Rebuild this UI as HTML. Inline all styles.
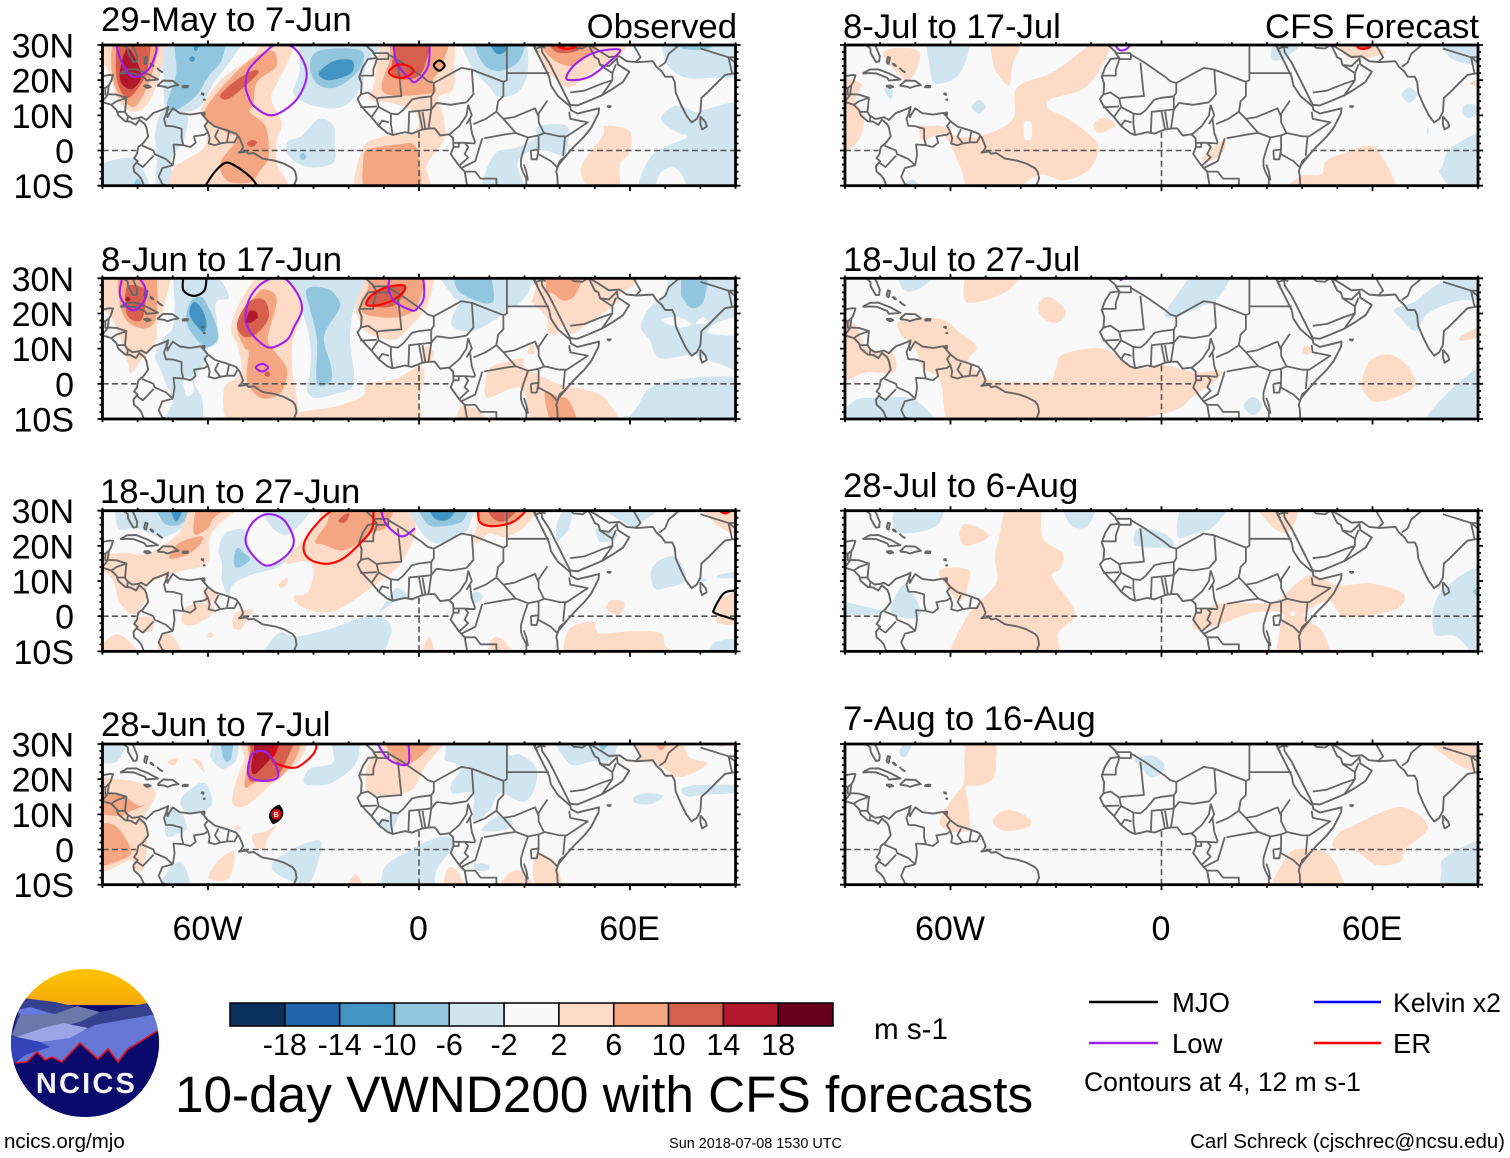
<!DOCTYPE html>
<html lang="en">
<head>
<meta charset="utf-8">
<title>10-day VWND200 with CFS forecasts</title>
<style>
html,body{margin:0;padding:0;background:#fefefe}
svg{display:block}
text{font-family:"Liberation Sans",Arial,sans-serif;fill:#000}
</style>
</head>
<body>
<svg id="figure" xmlns="http://www.w3.org/2000/svg" width="1510" height="1158" viewBox="0 0 1510 1158">
<rect x="0" y="0" width="1510" height="1158" fill="#fefefe"/>
<g id="panels"></g>

<g font-size="34.7">
<text x="101" y="31">29-May to 7-Jun</text>
<text x="101" y="271">8-Jun to 17-Jun</text>
<text x="100" y="503">18-Jun to 27-Jun</text>
<text x="101" y="736">28-Jun to 7-Jul</text>
<text x="843" y="38">8-Jul to 17-Jul</text>
<text x="843" y="271">18-Jul to 27-Jul</text>
<text x="843" y="497">28-Jul to 6-Aug</text>
<text x="843" y="730">7-Aug to 16-Aug</text>
<text x="737" y="38" text-anchor="end">Observed</text>
<text x="1479" y="38" text-anchor="end">CFS Forecast</text>
</g>

<g id="colorbar"></g>
<text x="874" y="1039" font-size="29.6">m s-1</text>

<g font-size="27.5">
<line x1="1089" y1="1002" x2="1158" y2="1002" stroke="#000" stroke-width="2.4"/>
<text x="1172" y="1012">MJO</text>
<line x1="1314" y1="1002" x2="1381" y2="1002" stroke="#0000ff" stroke-width="2.4"/>
<text x="1393" y="1012" font-size="26.6">Kelvin x2</text>
<line x1="1089" y1="1043" x2="1158" y2="1043" stroke="#a020f0" stroke-width="2.4"/>
<text x="1172" y="1053">Low</text>
<line x1="1314" y1="1043" x2="1381" y2="1043" stroke="#ff0000" stroke-width="2.4"/>
<text x="1393" y="1053">ER</text>
<text x="1084" y="1091" font-size="26.5">Contours at 4, 12 m s-1</text>
</g>

<text x="175" y="1112" font-size="51.3">10-day VWND200 with CFS forecasts</text>
<text x="4" y="1148" font-size="20.5">ncics.org/mjo</text>
<text x="755.5" y="1148" font-size="14.4" text-anchor="middle">Sun 2018-07-08 1530 UTC</text>
<text x="1505" y="1148" font-size="20.45" text-anchor="end">Carl Schreck (cjschrec@ncsu.edu)</text>

<g>
<defs>
<clipPath id="logoClip"><circle cx="85" cy="1043" r="74"/></clipPath>
<linearGradient id="sky" x1="0" y1="0" x2="0" y2="1"><stop offset="0" stop-color="#ffc400"/><stop offset="1" stop-color="#f0a010"/></linearGradient>
</defs>
<g clip-path="url(#logoClip)">
<rect x="11" y="969" width="148" height="50" fill="url(#sky)"/>
<rect x="11" y="1005" width="148" height="112" fill="#0a0a6c"/>
<polygon points="10,1040 23,998 55,1002 77,1007 100,1012 148,1003 160,1030 100,1045" fill="#35408f"/>
<polygon points="157,1014 160,1030 128,1048 118,1062 108,1049 98,1059 80,1043 62,1062 15,1063 40,1042 85,1030 95,1025" fill="#6777d6"/>
<polygon points="12,1035 20,1015 40,1013 55,1014 77,1006 100,1012 80,1022 43,1030 17,1037" fill="#6b78aa"/>
<polygon points="17,1010 30,1007 50,1013 55,1014 20,1015" fill="#6677dd"/>
<polygon points="17,1037 43,1028 63,1023 88,1028 70,1038 40,1042" fill="#9aa6e6"/>
<polygon points="10,1036 40,1042 50,1047 25,1055 14,1063 10,1063" fill="#3344bb"/>
<polygon points="5,1063 27,1062 37,1052 45,1060 52,1057 62,1062 80,1043 98,1059 108,1049 118,1062 127,1050 165,1027 165,1120 5,1120" fill="#0a0a6c"/>
<polyline points="15,1063 27,1062 37,1052 45,1060 52,1057 62,1062 80,1043 98,1059 108,1049 118,1062 127,1050 157,1031" fill="none" stroke="#e01020" stroke-width="1.6"/>
</g>
<text x="86.5" y="1093" text-anchor="middle" font-size="29" font-weight="bold" letter-spacing="2.2" style="fill:#f4f4f4">NCICS</text>
</g>
</svg>

<script>
/* ---------- axis tick data ---------- */
const latTickValues = [30, 20, 10, 0, -10];
const latTickLabels = ['30N', '20N', '10N', '0', '10S'];
const lonTickValues = [-60, 0, 60];
const lonTickLabels = ['60W', '0', '60E'];

/* ---------- colour scale ---------- */
const colorLevels = [-18, -14, -10, -6, -2, 2, 6, 10, 14, 18];
const colorFills = ['#0a3060', '#2166ac', '#4393c3', '#92c5de', '#d1e5f0', '#f9f9f9', '#fddbc7', '#f4a582', '#d6604d', '#b2182b', '#67001f'];

/* ---------- wind anomaly regions: [m/s, lon, lat, lon, lat, ...] ---------- */
const obs1Shades = [
[-4,-90,-5.3,-81,-2.5,-77.2,-10,-90,-10],
[-8,-82,-10,-80,-8,-78,-10],
[-4,-72,30,-72.5,20,-72.5,14.5,-71.5,11,-67,10.8,-62,12.7,-58.3,19.3,-52.6,27,-50.7,30],
[-4,-75,5,-74.5,-1.5,-74.5,-10,-67.8,-10,-70.6,-3.4,-67,3,-66,10.3,-72.5,11.7],
[-8,-68.5,30,-69,22,-71.5,14,-71,11.5,-68,12,-63,16,-60,21,-56,26,-56,30],
[-12,-65.3,26,-64.5,26.8,-63.7,26,-64.5,25.2],
[-12,-64,29,-63,30,-62,29.6,-63,28.6],
[4,-90,30,-88,22,-85.7,14.5,-81.5,11,-77,13.5,-73.5,22,-72.5,29,-72.5,30],
[8,-86,30,-87,20,-82,12.5,-78.5,15.5,-75,25,-74.5,30],
[12,-85,30,-86,21,-83,15,-79,19,-77,24,-77,30],
[16,-83,29,-85,23,-84.5,19,-81.5,17.5,-79,21,-80.5,26],
[4,-62,11.7,-60.5,7.6,-61,1,-67,-3,-70,-5.5,-68,-10,-38.5,-10,-40.4,-3.5,-40.4,3,-39,8,-42,14.5,-40.4,19,-36.5,27,-35.6,30,-43,30,-47,27,-56.4,20],
[8,-60,13,-56,18,-49,25,-42,28.5,-40.5,24,-46,19.5,-47,13.5,-48,10.8,-43.7,7,-42.7,-1.5,-45.5,-6.2,-48,-9,-54.5,-8.6,-56.4,-3.4,-51.7,3.2,-54.5,5,-59,7.5,-61,10],
[12,-56,16.4,-56.4,15,-53.6,15,-46,21.6,-47,22.8,-51.7,20.2],
[12,-49,2,-47.5,3,-46,2.3,-47.5,1],
[-4,-31.5,30,-34,22,-35.6,16,-29,12.5,-21.5,12.5,-16.6,18,-14.6,25.5,-9,30],
[-8,-31,24.5,-29,19,-23.5,18,-17,23,-16.6,28.5,-28,28.5],
[-12,-28.5,22,-24,25.5,-19,25.5,-19.3,22,-25.5,20],
[-4,-37.5,2.3,-33.3,4.2,-28.5,9,-24.3,7,-24,2.3,-24.3,-3.4,-31,-4.8,-36.6,-2],
[-8,-34,-1.7,-33,-0.7,-32,-1.7,-33,-2.7],
[4,-8.7,30,-13,18,-14,14.5,-8,13.5,-3,12,0,9,-2,5,-10,4,-16,0.5,-17,-10,2.6,-10,2.2,-4.4,7,3,7,9.8,5.5,15,9.7,17.4,10,24,8.3,30],
[8,-6.8,30,-8.2,26,-10,16.4,4,16.4,4,20,6.4,24,7.8,30],
[12,-5.4,30,-7.3,27,-7.3,21,-1,20.7,2,25,2.6,30],
[8,4.3,24.2,5.8,25.7,7.3,24.2,5.8,22.7],
[8,-15.8,-2.5,-13.9,0.4,-5.4,1.8,-1.6,1.8,0,-2.5,-0.7,-10,-14.4,-10],
[-4,13,30,14.5,24.6,20,18,23,15.2,28.6,17,31,23.8,28.6,30],
[-8,16.4,30,18,25,23,22.6,28.8,26,29,30],
[-12,20,30,21.5,28,24.4,28,26.3,30],
[-4,18.5,-10,18.7,-7,22,-0.6,27.7,0.8,33,3.5,34,7,42,7,42.3,1.5,41,-1.5,36,0,31,-0.5,28,-4,30,-10],
[4,33.4,30,35,25,40,19.3,43.7,18.3,51.3,24,57,27,58,30],
[8,34.8,30,37,26.8,43,24,47.5,27,50.4,29,51,30],
[12,36.7,30,39,28,45.6,28.7,46,30],
[16,39,30,41,29.2,44,29.5,44.5,30],
[-4,69.8,26,71.6,30,90,30,90,22,83.5,20.7,75,21],
[-8,73,30,75,29,83,29.2,85,30],
[-4,66,-1.7,76,3.7,73.6,5,68.8,8.9,73,12.7,79,10.8,81.2,11.7,90,11.7,90,-10,64.6,-10],
[0,68.3,-7,72,-4.8,74.8,-7,76,-10,67.9,-10],
[4,46,-5.3,52.3,4.2,52.8,7,59.8,5.6,59.8,-0.6,57,-4.3,57,-10,50.4,-10]
];
const obs2Shades = [
[4,-90,30,-89,24,-87,18,-83,6.8,-82,3,-79,6.8,-74.8,12.5,-74.4,17,-72,24,-72.5,30],
[8,-85,30,-84.3,20,-79,15.8,-75,18,-74.4,27.6,-76,30],
[12,-83,27.6,-83,19.6,-79,18,-77.7,24,-78,27],
[16,-83.6,24,-82.8,24.8,-82,24,-82.8,23.4],
[-4,-69,30,-69.5,22,-70,16,-72.5,13,-75,8,-73.5,4,-72,0,-70,-5,-73,-10,-63,-10,-61.5,-5,-64,0.7,-61,5.9,-60,10,-57,12.5,-57.8,22.9,-54,24.8,-59.7,30],
[0,-67,1,-65,1.5,-64,-2,-66,-3.5],
[-8,-65,23.3,-66,17,-61,10.6,-57.3,12.5,-57.8,17,-60,22,-62,24.8],
[-12,-64,23.3,-65.2,19.6,-61.6,14.8,-60.4,17,-61.6,21],
[4,-44,30,-51,22.9,-53.4,15.3,-51.5,10.6,-50.7,3,-55.5,-1.7,-52.7,-10,-35.3,-10,-36,4,-36,11.5,-33.7,19,-33.7,25.7,-37.5,30],
[4,-36,-10,-35,-8.5,-24,-6.5,-16,-3.5,-14.6,0,-7,1.2,0,4.9,1.5,2,0,-4,-2.5,-10],
[8,-46,25.7,-51.7,17.2,-49.8,10.6,-48.4,8.7,-48.9,1,-45,-4,-39.4,-2.6,-37.5,4,-41.3,9.6,-43,13,-40.4,23.8,-43.2,26.7],
[12,-48.4,23.3,-51.7,17.2,-49.8,13.4,-46,14.4,-42.7,19,-44,23.8],
[16,-48.4,20.5,-48.9,17.2,-46,18.6,-46.4,20.5],
[12,-44,2.8,-43,3.6,-42.3,2.6,-43.2,2],
[-4,-36,30,-33.5,22,-31,12,-31,3,-32,-1,-30,-4,-24.3,-3,-18.6,0,-19.6,12.5,-18.6,21,-14.8,30],
[-8,-31.9,27,-30.9,21,-29,12.5,-29,0.2,-25.2,0.7,-25,5,-27,13.4,-22.8,21,-22.8,23.8,-26,27],
[4,-17.7,23.8,-15.8,28,-13,30,3,30,2.6,22.9,-2.5,16.3,-7.3,12.5,-14.8,14.8,-18,21],
[8,-14.8,25.7,-12,30,0.8,30,-0.2,22.9,-5.4,19,-15.8,20],
[12,-14.8,24.3,-10,27.6,-4,27.6,-6.8,22.4,-13,22],
[4,1.7,10.6,4,9.2,3.6,6.8,1.2,6.8],
[-4,7,30,9.7,24.8,11.5,23.5,9.7,19.6,9.2,17.2,10.2,15.8,14.5,14.8,20,17.2,25,21,28.6,23,31.5,27,31,30],
[-8,10.7,30,11,26.7,17.3,23.3,21,23.3,21,27.6,19.2,30],
[4,32,23.3,33.4,27.6,34.3,30,60.8,30,60.8,28,57,25.7,56,22.9,45.6,15.3,43.3,14.4,41,17,39,13.9,36.7,14.8,36.2,19,32.4,22.9],
[4,32,11.5,31,8.7,32.9,8.7],
[8,36.2,26.7,37.6,30,46.6,30,44.7,25.7,41.4,23.6,38,25.7],
[-4,63,16.3,65.5,21.5,70.2,25.7,73,30,90,30,90,5.9,84.8,5.9,78.4,8.2,68.4,7.3,65.6,12.5],
[0,68.8,18.1,73.5,19,77.3,17,74,16],
[0,78.7,17.2,81,19,82,17.2],
[0,82,14.8,85.5,17.7,90,19,90,14,85,14],
[-8,74.5,26.7,75.4,30,81.6,29.3,81,23.8,77.8,21.5,75,24.3],
[-4,61.7,-10,62.7,-5.5,67.4,-0.3,81.6,2,90,0.2,90,-10],
[4,18.7,-1.2,20,4.4,25,6.3,29.6,7.3,30,5,34,2.5,41,-0.5,47.5,-1.7,53.2,-4.5,56,-10,34.3,-10,30,-2.6,26.7,-1.2,20,-4,18.7,-2.6],
[8,35.7,-2.6,38.6,-10,45.2,-10,42.8,-5,39.5,-3.6],
[4,11,-10,12,-6.4,18,-8.3,18,-10]
];
const obs3Shades = [
[-4,-85.5,25,-84,30,-63,30,-66,26.4,-73,22.5,-80,25],
[-8,-74.4,30,-72.5,26.5,-67.3,26.5,-64,30],
[-12,-71,29.5,-69,27,-66.8,29.5],
[4,-90,17,-84,18,-78,17.5,-73,20,-68,24,-63,30,-50,30,-57.4,25.5,-59.7,21.7,-60.2,15,-67.8,12.8,-77,9,-77.7,4.7,-81,0.5,-85,3.8,-87.6,11.3,-90,14],
[8,-64,23.6,-62,30,-52.5,30,-58.3,27.9,-60,25],
[8,-71,16.5,-68.2,20.8,-62,22.7,-62,20.8,-65.9,17.5],
[-4,-44,30,-42,25.5,-36.6,23.6,-30,30],
[-4,-57,19,-55,23.6,-49.8,24.6,-48,19.5,-45,15,-40,15.5,-37,18,-35,19,-40,14,-47,12,-53,9,-54,5.5,-56,10,-56,15],
[-8,-51.7,19.4,-52.7,16,-51.7,13.7,-48,16,-49.8,18],
[4,-38,15,-34.7,19.8,-29,26.5,-25,30,-5.4,30,-1,24.6,-4.9,15.6,-7.3,12.8,-13,8.5,-24.3,1.4,-32.8,2.4,-35.6,5.7,-31.8,6.6,-30,12.3,-31.8,15.6],
[8,-29.5,21.3,-26.2,26.5,-23.3,30,-8.2,30,-9.2,25.5,-13.9,23.6,-17.2,20.8,-22,18.7,-27,20.3],
[12,-23,27,-21,29,-19.8,29,-21,26.7],
[4,-39.9,9,-37.6,10.9,-37.4,9.3,-39,8],
[4,-67.3,-1.9,-66,2.8,-59,3.5,-59,0.5,-64,-2.4],
[4,-61,7.5,-57,6.5,-57.4,4.7,-60.5,3.8],
[4,-53,-2.8,-52,1,-47,1.9,-48.9,-0.9,-50.8,-3.8],
[4,-80.5,-3.8,-80,-0.5,-75.8,-0.5,-76,-4.2],
[4,-74,-10,-73.4,-5.7,-70,-5.7,-66.8,-10],
[4,-90,-10,-87.5,-5.7,-83,-6.6,-79.5,-10],
[4,-60.2,-5.5,-59.3,-4.6,-58.4,-5.5,-59.3,-6.2],
[-4,-43.2,-8.5,-39.4,-4.7,-34.7,-5.7,-26,-3.8,-14.8,0,-9.2,-1,-8.2,-5.7,-15,-10,-45,-10],
[-4,-11.5,1,-9.2,4.3,-6.3,8,-3.5,5.7,-7.3,3.8],
[-4,-2.5,30,0.3,24.5,5,20.7,12.6,23.5,14.5,26.4,14.9,30],
[-8,0.1,30,2.2,26.4,6.9,25.6,12.6,27.3,13,30],
[-12,2.6,30,4.5,27.8,8.8,27.8,10.7,30],
[4,15,21.6,16.4,25.4,17,30,33.4,30,31,26.4,25,22.6,20,23.5,17,21],
[8,17.3,26.8,17.3,30,30.5,30,26.7,26.8,21,25.6],
[12,19.7,29.4,28.6,29.4,25,27.3,21,27.8],
[-4,39,25,40,28.3,43.7,30,42.8,25.5,39.5,21.6],
[-4,50.4,24.9,56,23.5,55,21.6,51.4,21.2],
[-4,49.9,30,60.8,25.4,62.6,26.4,70,30],
[-4,66,13,69.3,16.4,73.5,16.4,75.8,10.3,70.2,8,66.9,8],
[-4,85.4,11.7,90,13.1,90,11,85.5,10.8],
[-4,79,10.6,80.5,11,82,10.3,80.5,9.8],
[4,79.7,30,90,30,90,23.5,85.4,25.4],
[12,85,30,87,29.2,90,30],
[4,53.2,2.7,55,4.6,58.4,3.7,57,0.4,54.2,1.3],
[4,42.3,-4.3,49.4,-1.5,51.3,-4.8,60.8,-4.3,68.8,-4.8,70.2,-8.6,75.8,-10,44.7,-10],
[4,83.9,1.8,86.7,5.6,90,7.3,90,-1,85.8,-2.2],
[-4,83,-10,84,-7.5,90,-7,90,-10],
[4,0.3,-10,2.6,-6,4,-8.6,4,-10],
[4,20.6,-6.7,23.9,-6.7,27.2,-10,20,-10],
[-4,14.5,5.6,16.4,7,18.2,5.6,15.9,3.7]
];
const obs4Shades = [
[-4,-90,25.8,-90,30,-83,30,-85,26,-88,24.5],
[4,-90,18.2,-85.7,20,-77.2,18.2,-74.9,15.4,-78.2,8.8,-77.2,5,-78.2,-5.4,-81.5,-5.4,-82,-3,-90,-5.4],
[8,-90,15.4,-84.8,15.4,-80,12.6,-77.5,12.8,-82.4,10.7,-85,9.5,-90,11],
[8,-90,6,-86.7,6.9,-82,0.3,-83.8,-2.6,-90,-4.4],
[-4,-67.3,15,-62,19,-59.7,17.3,-59,12.6,-64,10.2,-67.3,11.6],
[-4,-72,4,-71.5,11.6,-67.8,10.7,-66,6,-68.6,4.5],
[-4,-59.3,27.7,-56.5,30,-51.8,30,-51.8,25.8,-55.5,23,-58.4,24.9],
[-8,-56.5,30,-53,30,-53.5,25.8,-55.5,25.8],
[4,-71.5,24.9,-68.7,26,-69.6,23.9],
[4,-64.5,25.8,-62,24.9,-61,22,-62,23],
[4,-53,15.4,-51.5,21,-49.7,25.8,-49.8,30,-32.8,30,-33.7,25.8,-40.4,20,-48.9,12.6,-52.6,12.6],
[8,-49.6,17.8,-48.4,25.8,-48,30,-34.7,30,-34.7,26.7,-40.4,19.7,-46,19.2],
[12,-48.4,20,-48,27.7,-46.5,30,-35.6,30,-37.5,25.8,-40.4,21,-45,19.7],
[16,-47.7,23,-47,27.7,-46,30,-39.4,30,-40.8,27.2,-42.2,25.8,-46.5,21.5],
[4,-47.4,4,-44,5,-40.4,6.9,-43.2,3,-44,0.3,-46.5,0.8],
[4,-52.6,6,-51.3,7,-50.8,5.6],
[4,-59.7,-8.2,-57.4,-3.5,-52.6,-0.7,-54,-8.2],
[-4,-41.8,-4.4,-40.4,-2.6,-33.7,1.2,-28,2.4,-28.5,-2.6,-31,-9.2,-35.6,-9.2,-41,-6.5],
[-4,-74,-10,-71.5,-6.3,-67.8,-3.5,-65.4,-8.2,-65.4,-10],
[-4,-32.8,19.2,-31,23,-24.3,24.9,-25,30,-17.7,30,-17.7,24.9,-24.3,19.2,-30,18.2],
[4,-21,-10,-18,-7,-15.3,-10],
[-4,-10,-5.5,-3.5,-0.7,4,3,9,3.5,9.7,0.8,5,-5.8,3,-10,-9,-10],
[-4,-11,7.8,-7.3,10.2,-5.9,9.7,-8.2,5],
[4,-15,17,-14.5,24,-11,29,-9,30,8,30,2,24,0,20,-2,17,-7,15.5,-12,15.5],
[8,-9,30,-7.5,26,-4,24,1,27,5,30],
[-4,7.4,26.3,9.7,30,25,30,25.5,27,29,27,33.4,23,32.7,17,29.6,13.6,23,15.9,20,11.1,15.4,8.3,15.4,15.9,9.7,15.9,9.2,18.7,12,23.4,7.8,25.3],
[-4,17.8,5.5,22.9,9.7,26.7,7.4,24,5.5],
[4,7.4,-10,7.9,-5.9,10.7,-5.9,13.5,-10],
[4,22,-10,25.8,-6.6,30,-6.8,32.9,-10],
[4,32.4,-5.9,32.9,-2.5,34.3,-1.1,39,-4,40.4,-10,33.8,-10],
[-4,15.9,-4,19.7,-4.4,19.7,-5.9,16.3,-5.9],
[4,58.9,24.9,62.7,26.3,60.8,30,73,30,76.8,26.3,82,24.4,74,20.6,67.4,24.4],
[8,66.4,30,68.8,28.2,72,30],
[-4,39,30,42.8,24.4,49,25,55,26,55,30],
[-8,50.4,30,52.3,28.2,55,30],
[-4,60.8,14.5,63.6,15.9,69.3,15.4,66.4,13,62.2,13],
[-4,74.6,16.4,77.4,18.2,90,18.2,90,16.4,79.7,15.4,76.8,15],
[4,83,30,86,29.2,90,30]
];
const fcst1Shades = [
[4,-79,27,-77,29,-69.3,28.5,-69.3,24,-72,20,-76,23],
[4,-90,19,-85.3,19,-87,14.6,-84.7,10,-85.3,4.5,-88,1,-90,-0.5],
[-4,-66,30,-54.9,30,-57.3,22,-64.3,19,-66,24.6],
[-4,-78.9,17.5,-76.5,17.5,-77,14.6],
[-4,-54,12.4,-52,14.4,-50,12.4,-52,10.4],
[4,-48,30,-39.3,30,-42.2,24.8,-43.3,18.6,-46.3,21.4,-48,25.3],
[4,-16.5,30,-30.5,22.5,-41,18,-42.2,9,-50.3,4.5,-58,4,-62,6.8,-68,7,-69,6.8,-67.8,2.8,-62,4.5,-57.3,-4.5,-54,-10,-45,-10,-35,-7,-28,-8.5,-22,-6.5,-18.7,-2.5,-18.5,2.5,-26.5,9,-32,11.8,-31.6,14.6,-22.3,17.5,-16.5,24.8,-14,30],
[0,-39,7.9,-37,7.9,-37,3.4,-39,3.4],
[4,-19.4,7.3,-16.5,9.3,-13,7.3,-17.6,5],
[4,11.5,-2.3,17.4,2.8,18,0.5,14.5,-2.8],
[-4,-78,-10,-72,-8.7,-70,-8.7,-67,-10],
[-4,31.4,26,33,30,41.9,30,36,27],
[4,50.6,30,62.9,28.7,61.7,27,53,26.5],
[12,55,30,56.3,29,59,29.2,59.5,30],
[-4,68.3,15.8,70.5,18,72.7,15.8,70.5,13.6],
[-4,85.4,11.3,87.4,13.3,89.4,11.3,87.4,9.3],
[-4,79.2,30,90,30,90,24.8,82.7,26],
[4,87.6,19,90,21,90,18],
[-4,75.4,5.6,75.7,6.6,76,5.6,75.7,4.6],
[-4,79.8,-4.5,82.7,1,90,4.5,90,-10,85,-10,79.3,-6.8],
[4,36,-10,39.5,-7.3,45.3,-6.8,47,-2.8,52.4,-0.6,58.3,1.4,62.3,-1.1,65,-10]
];
const fcst2Shades = [
[-4,-74.2,30,-73.6,27,-69,27,-62.6,30],
[4,-56,24,-54,30,-40.7,30,-43,27,-51,23.5],
[4,-35,22.4,-32,24.7,-27.2,20.7,-29.8,17.3,-34,19],
[4,-74.2,18,-63,18.5,-57.3,14.5,-52.6,10.6,-55,6.6,-50.9,2.5,-47.9,1,-32.8,0.5,-30,4.4,-28,8.3,-16.5,10,-7,4.5,0,5.5,9.2,3.3,17.4,3.3,9.2,-3.5,0,-8.6,-35,-10,-58.5,-10,-63,1,-67.8,4.4,-70,10,-74,14],
[4,-90,17.3,-87.6,17.3,-83.5,10,-76.5,8.9,-76,3.3,-84,3.3,-90,1],
[-4,-89.4,-10,-87.6,-5,-80.6,-4,-70,-4.6,-65.5,-10],
[-4,1,20,7,29,8.5,30,20,30,16.2,24.6,11.5,22,4,19],
[-4,66.4,21.3,72.2,23.5,79.2,28.6,90,30,90,24.7,83.9,23.5,75.7,20,72.2,15,67.6,19],
[4,85,13.4,90,17.3,90,14.5,86.2,12.3],
[4,40,9.5,41.3,10.9,42.7,9.5,41.3,8.1],
[4,57,1,59.4,6.6,65.2,8.3,70.5,4.4,71.6,-1.2,61.7,-5.2,57.6,-2.4],
[-4,75.1,-10,80.4,-3.5,90,5,90,-10],
[-4,23.4,-6.3,26,-3.7,28.6,-6.3,26,-8.9]
];
const fcst3Shades = [
[-4,-76,24.5,-74.2,30,-63,30,-63,26.8,-68.7,24],
[-4,-28,30,-18.7,30,-21,25.7,-25.8,26],
[4,-57.3,24.5,-55,26.2,-49,22.9,-55,20,-57,21.5],
[4,-43.3,30,-35,30,-33.8,22.3,-28,17.8,-29,13.3,-31,11,-24.6,0.9,-29.3,-4.7,-31.6,-10,-58.5,-10,-56,-1.4,-51.5,4.3,-46.8,9.9,-47.4,16.7,-46.2,22.3],
[4,-63,13.3,-55,13.3,-55,8.8,-57.3,4.3,-61.4,8.8],
[-4,-77,2.5,-73,9,-68.5,2,-70,-0.5,-75,0],
[-4,-90,4.3,-79.5,1.5,-84,0.3,-90,1.2],
[-4,-7.7,20.6,-6.5,25,1,23.4,3.4,20,-3.6,19.5],
[-4,4.5,22.9,7,30,19,30,15,25.7,9.2,23.4],
[4,26.7,30,38.4,30,37,25,32.6,24.5],
[4,32.6,4.3,41.9,11.6,50,8.8,59.4,9.3,68.7,6.5,66.4,2,52.4,-0.2,47.7,4.3,40.7,0.9,41.9,-1.4,46,-4.7,47,-10,33.7,-10,33.7,-3.6,34.3,0.9,25.6,0.9,16.2,-2.5,9.2,-3.6,10.4,0.9,17.4,3.7,25.6,3.7],
[0,36.8,1.2,37.8,1.2,37.8,0.2,36.8,0.2],
[-4,77.5,-4.7,79.2,6.5,90,13.3,90,-10,83.9,-5.9],
[-8,88.5,7,90,9,90,4.5]
];
const fcst4Shades = [
[-4,-74.5,27.2,-74,29,-69.7,30,-72.6,26.5],
[4,-56,26.3,-54.7,30,-47.6,30,-47,25.3,-48,20,-52,18.2,-55.5,17.8,-55,13,-54.5,6.4,-56,5,-61,5.5,-63,8.3,-59.8,14,-56.5,18.2,-56,22.5],
[4,-48,8.3,-43.7,11.3,-37.5,8.8,-38,6.4,-44.7,5.3],
[-4,-7.4,25.8,-2.6,26.7,0.7,24.4,0.2,22,-3,20.4,-5.5,23],
[4,75.4,30,90,30,89.5,22,82.9,25],
[4,48.9,0.7,50.3,4.5,53.6,6.4,67.8,12,75.8,6.4,69.6,0.3,67.8,-3.5,61.2,-4.4,55.5,-0.7],
[4,31.9,-10,35.6,-2,40.4,0.3,48,-2,51,-10],
[-4,79.6,-5.9,81,-2,90,2.5,90,-10,80.5,-10]
];

/* ---------- wave-filtered contours: lon, lat ---------- */
const obs1Contours = [
{wave:'mjo',closed:false,p:[-60.7,-10,-58,-6,-55,-3.5,-52,-4.5,-48,-7.5,-46,-10]},
{wave:'low',closed:false,p:[-86.2,30.5,-84.5,25,-81.3,21,-77,23,-74.8,27.7,-74.7,30.5]},
{wave:'low',closed:true,p:[-49.3,18.8,-48.4,23,-44,27.7,-40.4,30.2,-35.6,29.2,-32.3,24,-32.3,19.3,-35.6,13.6,-41.8,10,-47,12.7,-48.9,16.4]},
{wave:'low',closed:false,p:[-7.3,30.5,-6.3,25,-2.6,20.3,-0.7,19.7,2.6,24,3,30.5]},
{wave:'er',closed:true,p:[-8.5,22.5,-6,24.4,-3,24,-1.6,22.5,-4,20.8,-7,21]},
{wave:'mjo',closed:true,p:[4.2,24.2,5.8,25.6,7.3,24.2,5.8,22.7]},
{wave:'low',closed:true,p:[41.9,21,44.7,24.8,50.4,28,57,28.7,55,26,48.5,21,43.3,20]},
{wave:'er',closed:false,p:[38.8,30.2,41,29,44,29.2,45,30.2]}
];
const obs2Contours = [
{wave:'low',closed:false,p:[-84.3,30.5,-85,25,-81.5,20.9,-78,23.8,-78,27.6,-80,30.5]},
{wave:'mjo',closed:false,p:[-67,30.5,-67,26.6,-64,25,-61,26.6,-60.4,30.5]},
{wave:'low',closed:true,p:[-49.3,19.6,-47.9,24.8,-44,29,-38.8,30.2,-34.6,25.7,-33.3,21,-35.6,16,-37.5,12.5,-42.2,10.3,-46,12.5,-48.8,16.3]},
{wave:'low',closed:true,p:[-46.4,4.6,-44.6,5.7,-42.9,4.6,-44.6,3.5]},
{wave:'er',closed:true,p:[-15,23,-13,25.5,-9,27.5,-4.5,28,-4.2,26.5,-7,24,-11,22.5,-14,22.2]},
{wave:'low',closed:false,p:[-8.2,30.5,-8.7,27,-6.8,23.3,-2.5,21,-1.1,20.8]},
{wave:'low',closed:false,p:[-1.1,20.8,1.2,23.8,1.4,28.5,0.8,30.5]}
];
const obs3Contours = [
{wave:'low',closed:true,p:[-49.3,21.3,-47.4,26.5,-43.2,29,-38.5,27.4,-35.6,21.7,-37.5,17.5,-42.7,14.4,-46.5,16.5]},
{wave:'er',closed:false,p:[-24.3,30.5,-28,27.4,-31.8,22.7,-32.8,18.9,-30.8,16,-26,14.9,-21.4,16.5,-16.7,20.8,-13.3,25,-13,30.5]},
{wave:'low',closed:false,p:[-10.8,30,-9.2,26,-4.9,22.7,-1.1,25]},
{wave:'er',closed:false,p:[16.8,30.5,17.3,26.8,21,25.6,26.7,26.8,31,30.5]},
{wave:'er',closed:false,p:[84.8,30.5,87,29.2,89.5,30.5]},
{wave:'mjo',closed:false,p:[90,7.3,86.7,6.5,83.9,2,84.4,0.8,90,-1]}
];
const obs4Contours = [
{wave:'er',closed:false,p:[-40.4,30.5,-41.8,25.8,-39.4,24,-34.7,23.4,-30,27.2,-29,30.5]},
{wave:'low',closed:true,p:[-48.6,23.4,-47.4,27.2,-44,27.9,-41.2,24.9,-40,21,-42.2,19.7,-46,19.7,-48.4,21]},
{wave:'low',closed:false,p:[-12,30.5,-9.5,26.5,-6.5,24.5,-3,24.5,-3,30.5]}
];
const fcst1Contours = [
{wave:'low',closed:false,p:[-13.5,30.5,-12,28.6,-10,28.8,-8.5,30.5]},
{wave:'er',closed:false,p:[55,30.5,56.3,29,59,29.2,59.5,30.5]}
];
const fcst2Contours = [
{wave:'low',closed:false,p:[-12.5,30.5,-11.5,29.5,-10.5,30.5]}
];
const fcst3Contours = [];
const fcst4Contours = [];

/* ---------- tropical cyclone marker ---------- */
const cycloneLon = [-40.6];
const cycloneLat = [10];
const cycloneLabel = ['B'];

/* ---------- ocean-only spans of the reference dashes ---------- */
const equatorOceanSpans = [[-90,-80.4],[-50,9.3],[42.5,90]];
const meridianOceanSpan = [-10,5.3];

/* ---------- map outlines: lon, lat ---------- */
const coastlines = [
[-81.5,30,-81,29,-80.1,26.8,-80.3,25.3,-81.2,25.2,-81.8,26.2,-82.7,27.8,-82.8,29,-84,30],
[-90,21.1,-88,21.5,-87,21.4,-87.6,19.5,-88.2,18.5,-88.5,16,-86,15.9,-83.2,15,-83.6,11,-83,10,-81.5,9,-80,9.2,-79,9.5,-77.5,8.7,-75.5,10.7,-74,11.2,-72,12,-71.3,12.4,-71.8,11,-71.5,9.5,-71,10.5,-70,12,-68,10.6,-65,10.2,-62,10.7,-61,9.5,-60,8.3,-58,6.8,-55,5.9,-52,4.8,-51,3.5,-50,1,-50.5,0,-51.2,-0.6,-49,-0.3,-48.5,-0.9,-47,-0.7,-44.5,-2.3,-41,-2.9,-38.5,-3.7,-36,-5,-35.2,-6,-34.8,-8,-35.5,-9.8,-36.3,-10.5],
[-90,13.8,-87.5,13,-86,11.5,-85.5,10,-83.5,8.3,-82,8.2,-80.5,7.3,-79.5,8.8,-78,7.5,-77.5,6.5,-77,4,-78.5,2,-79.8,1,-80.2,-1,-81,-2.2,-80,-3,-81.2,-4.5,-81,-6,-79.8,-7,-79,-8,-78,-10.5],
[-85,21.9,-83,23,-80.5,23.1,-77,21.7,-74.2,20.2,-77.5,19.9,-78,20.7,-81,21.9,-83,22,-85,21.9],
[-74.4,18.4,-72.8,19.9,-70,19.8,-68.4,18.6,-70,18.3,-71.5,17.8,-72.5,18.2,-74.4,18.4],
[-78.3,18.4,-77,18.5,-76.3,18.1,-77.3,17.8,-78.3,18.4],
[-67.2,18.4,-65.7,18.4,-65.8,18,-67.2,18,-67.2,18.4],
[-78.2,25,-77.8,26.6,-77.2,26.4,-77.6,24.6,-78.2,25],
[-76.5,24.8,-75.9,24.5,-75.5,24,-76,24.2,-76.5,24.8],
[-74.5,23.5,-73.6,22.6,-73,22.3,-73.8,22.8,-74.5,23.5],
[-62,16.2,-61.3,16.2,-61.3,15.8,-62,16.2],
[-61.2,14.7,-60.9,14.4,-61.2,14.4,-61.2,14.7],
[-61.7,10.7,-61,10.8,-61,10.1,-61.7,10.2,-61.7,10.7],
[-15.2,30,-13,28,-13,27.7,-12,26.3,-14.5,26,-16,23.7,-17,21,-16.3,19,-16.5,16,-17.5,14.7,-16.7,13,-15,11,-13.5,9.5,-11.5,7,-9,5,-7.5,4.4,-4,5.2,-2,4.8,1,6,3,6.3,4.5,6.3,6,4.3,8.5,4.6,9.7,3.5,9.8,1,9,-1,11,-3.8,12,-5,13,-6,13.5,-9,13.8,-10.5],
[39.5,-10.5,39.3,-7,39,-6,40,-3,41.5,-1.8,44,1,47,4,49,6.5,51,10.5,51.2,12,48,11.2,45,10.5,43.2,11.5,43,12.5,39.5,15.5,37.5,18.5,37,21,35.5,24,34,27,32.5,30],
[34.8,29.6,35,28,37,25,39,21,41,17,43,13,45,12.8,48,14,52,15.7,55,17.5,58,19.5,59.8,22.4,56.5,24.5,56.3,26.2,54,24,51.5,24.3,51,26,50,26.5,48.5,29.5,48,30],
[48.5,30,51,28.5,54,26.6,57,26.8,59,25.4,62,25.1,66.5,25.4,67.5,23.8,69,22.5,70,21,72,21,72.7,19.5,73,16.5,74.5,13,76,10,77.5,8,79,9,80,11,80.3,15,82,16.5,85,19.5,87,21.5,90,22],
[80,9.7,81.5,8,81.8,6.8,80.5,6,80,7.5,80,9.7],
[53.4,12.6,54.5,12.6,54.2,12.3,53.4,12.6],
[33,28.8,34.8,29.6],
[33,30,33,28.8,33.8,27.9]
];
const borderLines = [
[-90,17.8,-89.1,17.8,-88.3,18.5],[-89.2,17.8,-89.2,15.9,-88.5,15.8],[-90,14,-88.5,15.8],[-87.5,13,-86,14,-83.2,15],[-85.7,11,-83.7,11],[-83,8.2,-82.8,9.6],
[-71.3,11.8,-72.5,9,-72,7,-70,6.9,-67.5,6.2,-67.5,3.5,-67,1.5],[-67,1.5,-69.8,1.7,-69.5,-1,-70,-4.2],[-78.8,1.4,-75.5,0,-75.2,-1,-72,-2.4,-70,-4.2],[-80.3,-3.4,-78.5,-4.7,-75.5,-1.5],[-70,-4.2,-73,-5,-74,-7.5,-73,-9.5,-70.5,-10.5],[-67,1.5,-65,1,-63.5,2.2,-64,4,-61,4.5,-60,5.2],[-60,5.2,-61,7,-60,8.3],[-60,5.2,-59.5,3.5,-59.8,2,-58,1.5,-56.5,2],[-57,6,-58,4,-56.5,2],[-54,5.7,-54.5,3,-54.5,2.3,-56.5,2],[-54.5,2.3,-52.5,2.3,-51.5,4.2],
[-13,27.7,-8.7,27.7],[-8.7,27.7,-8.7,26,-12,26,-12.3,24.9,-13,23,-13,21.3,-17,21.3],[-8.7,27.3,-4.8,25,1,21,2.5,19.7,4.2,19.2],[4.2,19.2,12,23.5,15,23,24,19.5,25,20,25,22],[25,30,25,22,37,22],[-6,25,-5,15.5,-11.3,15,-12,14.7],[-16.5,16,-14.5,16.5,-12,14.8],[-12,14.7,-11.5,12.4,-8,10.5,-6,10.3,-4.5,11.5,-2,14.5,0,15,3.5,15.4,4.2,16.5,4.2,19.2],[3.5,15.4,3.5,11.7,5,13.5,9,13,13.5,13.7],[13.5,13.7,15.5,16,15,23],[-16.7,12.3,-12,12.5],[-11.5,12.4,-13.5,9.5],[-11.5,7,-10.5,8.5,-8.5,8],[-8,10.5,-8,7.5,-7.5,4.4],[-3,5,-2.8,11,2,11.5,3.5,11.7],[0,11,1,6],[1,11,1.8,6.2],[3.5,11.7,2.7,6.3],[14,13,13.5,10,11.5,7,8.7,4.6],[14,13,15,10,13.5,7.5],[14.5,9,15,5,16,2.2],[15.5,7.5,19,9,22,11],[18.5,3.5,24,4.5,27.5,5],[24,19.5,24,15.5,22.5,14,22,11,24,9,27.5,5],[24,9,27,9.5,33,12,34,9.5],[36.5,14.2,34,10.5,34,8,35.5,5,40,4,42,4,48,8,43,9,42.7,11],[34,4.3,35.8,5],[41.5,3.9,41,-1.5],[31,3.7,34,4.3,34,1,33.9,-1],[33.9,-1,37.5,-3,39.2,-4.7],[31.8,0,34,0.3,33.5,-2.5,32,-2.5,31.8,0],[31,3.7,29.7,0,29,-2.5,29,-4.5,29.5,-6,30.5,-8,30.5,-10.5],[29.8,-4,30.5,-6,31,-8.5],[27.5,5,31,3.7],[13,-6,16,-6,17.5,-8,22,-8,22,-10.5],[9.7,2.2,13,2.2,16,2],[11.3,-4.5,14,-2,13,-1,14,1,13,2.2],[12,-5,16,-3,18,3.5],[9.8,1,11.3,1,11.3,2.2],
[42,-1.3,39.2,-4.7],[43,16.5,47,17,52,19,55,20,52,15.7],[55,20,55,22,51.5,24.3],[56,24.5,55,22],[48,30,46.5,29,44,29.2,42,31],[61,30,63,26.5,61.5,25],[74,30,71,27.5,70,25,68.3,23.8],[80,29,88,26.5,89,22],[88,26.5,90,26.5],[88,26.5,90,25],[34.8,29.6,36,29.2]
];

/* ---------- layout ---------- */
const SVGNS = 'http://www.w3.org/2000/svg';
const DEG = 3.517;
const waveColors = {mjo:'#000000', low:'#a020f0', er:'#ff0000', kelvin:'#0000ff'};
const panels = [
{id:'obs-1', lon0:419, top:45, shades:obs1Shades, contours:obs1Contours, leftLabels:true},
{id:'obs-2', lon0:419, top:278.3, shades:obs2Shades, contours:obs2Contours, leftLabels:true},
{id:'obs-3', lon0:419, top:510.7, shades:obs3Shades, contours:obs3Contours, leftLabels:true},
{id:'obs-4', lon0:419, top:744, shades:obs4Shades, contours:obs4Contours, leftLabels:true, cyclones:true, bottomLabels:true},
{id:'fcst-1', lon0:1161.5, top:45, shades:fcst1Shades, contours:fcst1Contours},
{id:'fcst-2', lon0:1161.5, top:278.3, shades:fcst2Shades, contours:fcst2Contours},
{id:'fcst-3', lon0:1161.5, top:510.7, shades:fcst3Shades, contours:fcst3Contours},
{id:'fcst-4', lon0:1161.5, top:744, shades:fcst4Shades, contours:fcst4Contours, bottomLabels:true}
];

function xAxis(p, lon){ return p.lon0 + lon * DEG; }
function yAxis(p, lat){ return p.top + (30 - lat) * DEG; }
function colorFor(v){
  let i = 0;
  while (i < colorLevels.length && v >= colorLevels[i]) i++;
  return colorFills[i];
}
function make(parent, tag, attrs, text){
  const e = document.createElementNS(SVGNS, tag);
  for (const k in attrs) e.setAttribute(k, attrs[k]);
  if (text !== undefined) e.textContent = text;
  parent.appendChild(e);
  return e;
}
function toPoints(p, flat, start, bleed){
  const pts = [];
  for (let i = start; i < flat.length; i += 2){
    let lon = flat[i], lat = flat[i + 1];
    if (bleed){
      if (lat >= 29.3) lat += 3;
      if (lat <= -9.5) lat -= 3;
      if (lon >= 89) lon += 3;
      if (lon <= -89) lon -= 3;
    }
    pts.push([xAxis(p, lon), yAxis(p, lat)]);
  }
  return pts;
}
function smoothPath(pts, closed){
  const n = pts.length;
  const at = i => closed ? pts[(i + n) % n] : pts[Math.max(0, Math.min(n - 1, i))];
  let d = 'M' + pts[0][0].toFixed(1) + ' ' + pts[0][1].toFixed(1);
  const segs = closed ? n : n - 1;
  for (let i = 0; i < segs; i++){
    const a = at(i - 1), b = at(i), c = at(i + 1), e = at(i + 2);
    const k = 1 / 6;
    d += 'C' + (b[0] + (c[0] - a[0]) * k).toFixed(1) + ' ' + (b[1] + (c[1] - a[1]) * k).toFixed(1) + ' '
       + (c[0] - (e[0] - b[0]) * k).toFixed(1) + ' ' + (c[1] - (e[1] - b[1]) * k).toFixed(1) + ' '
       + c[0].toFixed(1) + ' ' + c[1].toFixed(1);
  }
  return d + (closed ? 'Z' : '');
}
function linePath(p, flat){
  const pts = toPoints(p, flat, 0, false);
  return 'M' + pts.map(q => q[0].toFixed(1) + ' ' + q[1].toFixed(1)).join('L');
}

/* ---------- draw panels ---------- */
const root = document.getElementById('panels');
const defs = make(root, 'defs', {});
panels.forEach(function(p){
  const left = xAxis(p, -90), right = xAxis(p, 90), top = yAxis(p, 30), bottom = yAxis(p, -10);
  const clip = make(defs, 'clipPath', {id:'clip-' + p.id});
  make(clip, 'rect', {x:left, y:top, width:right - left, height:bottom - top});

  const g = make(root, 'g', {});
  
  

  const inner = make(g, 'g', {'clip-path':'url(#clip-' + p.id + ')'});
  
  

  const bg = make(inner, 'rect', {x:left, y:top, width:right - left, height:bottom - top, fill:colorFills[5]});
  
  

  p.shades.forEach(function(s){
    const shade = make(inner, 'path', {d:smoothPath(toPoints(p, s, 1, true), true), fill:colorFor(s[0])});
    
    
  });

  equatorOceanSpans.forEach(function(span){
    const eq = make(inner, 'line', {x1:xAxis(p, span[0]), x2:xAxis(p, span[1]), y1:yAxis(p, 0), y2:yAxis(p, 0), stroke:'#555', 'stroke-width':1.6, 'stroke-dasharray':'6 3.5'});
    
    
  });
  const mer = make(inner, 'line', {x1:xAxis(p, 0), x2:xAxis(p, 0), y1:yAxis(p, meridianOceanSpan[0]), y2:yAxis(p, meridianOceanSpan[1]), stroke:'#555', 'stroke-width':1.6, 'stroke-dasharray':'6 3.5'});
  
  

  const coast = make(inner, 'path', {d:coastlines.map(c => linePath(p, c)).join(''), fill:'none', stroke:'#666', 'stroke-width':1.9, 'stroke-linejoin':'round'});
  
  
  const border = make(inner, 'path', {d:borderLines.map(c => linePath(p, c)).join(''), fill:'none', stroke:'#666', 'stroke-width':1.8, 'stroke-linejoin':'round'});
  
  

  p.contours.forEach(function(c){
    const line = make(inner, 'path', {d:smoothPath(toPoints(p, c.p, 0, false), c.closed), fill:'none', stroke:waveColors[c.wave], 'stroke-width':2.1});
    
    
  });

  if (p.cyclones){
    cycloneLon.forEach(function(lon, i){
      const cx = xAxis(p, lon), cy = yAxis(p, cycloneLat[i]);
      const mark = make(g, 'g', {});
      
      
      make(mark, 'path', {d:'M' + (cx + 3) + ' ' + (cy - 10) + 'Q' + (cx + 8) + ' ' + (cy - 5) + ' ' + (cx + 7) + ' ' + cy + 'Q' + (cx + 6) + ' ' + (cy + 6) + ' ' + (cx - 3) + ' ' + (cy + 10) + 'Q' + (cx - 8) + ' ' + (cy + 5) + ' ' + (cx - 7) + ' ' + cy + 'Q' + (cx - 6) + ' ' + (cy - 6) + ' ' + (cx + 3) + ' ' + (cy - 10) + 'Z', fill:'#000'});
      make(mark, 'circle', {cx:cx, cy:cy, r:5.3, fill:'#d01010'});
      make(mark, 'text', {x:cx, y:cy + 2.5, 'text-anchor':'middle', 'font-size':7, 'font-weight':'bold', style:'fill:#fff'}, cycloneLabel[i]);
    });
  }

  /* frame and ticks */
  let ticks = '';
  for (let lon = -90; lon <= 90; lon += 10){
    const major = lonTickValues.indexOf(lon) >= 0;
    const x = xAxis(p, lon);
    ticks += 'M' + x + ' ' + top + 'V' + (top - (major ? 4.5 : 2.8));
    ticks += 'M' + x + ' ' + bottom + 'V' + (bottom + (major ? 5.5 : 3.2));
  }
  for (let lat = -10; lat <= 30; lat += 2){
    const major = latTickValues.indexOf(lat) >= 0;
    const y = yAxis(p, lat);
    ticks += 'M' + left + ' ' + y + 'H' + (left - (major ? 5 : 3));
    ticks += 'M' + right + ' ' + y + 'H' + (right + (major ? 5 : 3));
  }
  const tickPath = make(g, 'path', {d:ticks, stroke:'#000', 'stroke-width':1.8, fill:'none'});
  
  
  const frame = make(g, 'rect', {x:left, y:top, width:right - left, height:bottom - top, fill:'none', stroke:'#000', 'stroke-width':2.8});
  
  

  if (p.leftLabels){
    latTickValues.forEach(function(lat, i){
      const t = make(g, 'text', {x:74, y:yAxis(p, lat) + 12.5, 'text-anchor':'end', 'font-size':34}, latTickLabels[i]);
      
      
    });
  }
  if (p.bottomLabels){
    lonTickValues.forEach(function(lon, i){
      const t = make(g, 'text', {x:xAxis(p, lon) - 0.5, y:940, 'text-anchor':'middle', 'font-size':34}, lonTickLabels[i]);
      
      
    });
  }
});

/* ---------- colour bar ---------- */
const bar = document.getElementById('colorbar');
const barLeft = 230, barTop = 1003, barH = 23, boxW = 603 / colorFills.length;
colorFills.forEach(function(fill, i){
  const box = make(bar, 'rect', {x:barLeft + i * boxW, y:barTop, width:boxW, height:barH, fill:fill, stroke:'#000', 'stroke-width':1.5});
  
  
});
colorLevels.forEach(function(level, i){
  const t = make(bar, 'text', {x:barLeft + (i + 1) * boxW, y:1055, 'text-anchor':'middle', 'font-size':30.5}, String(level));
  
  
});
</script>
</body>
</html>
